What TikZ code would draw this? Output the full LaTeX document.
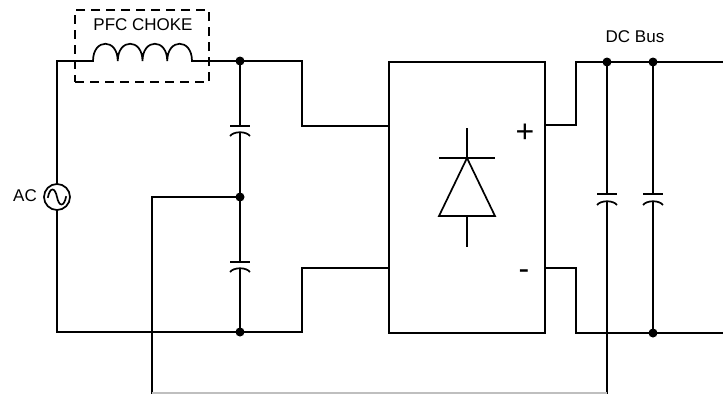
\documentclass[tikz,border=0pt]{standalone}
\usepackage{fontspec}
\setmainfont{Liberation Sans}
\begin{document}
\begin{tikzpicture}[x=1pt,y=1pt,yscale=-1,
  wire/.style={line width=1.7pt, line join=miter, line cap=rect},
  jdot/.style={circle, fill=black, inner sep=0pt, minimum size=9pt},
  lbl/.style={font=\fontsize{17}{20}\selectfont, inner sep=0pt},
  sign/.style={font=\fontsize{32}{36}\selectfont, inner sep=0pt, anchor=base},
  plate/.style={line width=1.7pt}]
\useasboundingbox (0,0) rectangle (723,394);

% labels
\node[lbl] (pfc) at (143,25) {PFC CHOKE};
\node[lbl, anchor=east] (aclbl) at (37,196) {AC};
\node[lbl] (dcbus) at (635,37) {DC Bus};

% choke box
\node[draw, dash pattern=on 9pt off 6pt, line width=1.7pt, minimum width=134pt, minimum height=72pt, inner sep=0pt] (choke) at (142,46) {};

% AC source
\node[draw, circle, line width=1.7pt, minimum size=26pt, inner sep=0pt] (ac) at (57,197) {};
\draw[wire] (48,197) .. controls (50,187) and (55,187) .. (57,197) .. controls (59,207) and (64,207) .. (66,197);

% rectifier box
\node[draw, line width=1.7pt, minimum width=156pt, minimum height=271pt, inner sep=0pt] (rect) at (467,197.5) {};

% junction dots
\node[jdot] (jt) at (240,61) {};
\node[jdot] (jm) at (240,197) {};
\node[jdot] (jb) at (240,332) {};
\node[jdot] (d1) at (607,62) {};
\node[jdot] (d2) at (653,62) {};
\node[jdot] (d3) at (653,333) {};
\node[jdot] (tp) at (727,62) {};
\node[jdot] (tn) at (727,333) {};

% coordinates
\coordinate (tl) at (57,61);
\coordinate (bl) at (57,332);
\coordinate (L1) at (93,61);
\coordinate (L2) at (192,61);
\coordinate (inA) at (rect.west |- 0,126);
\coordinate (inB) at (rect.west |- 0,268);
\coordinate (outP) at (rect.east |- 0,125);
\coordinate (outN) at (rect.east |- 0,268);
\coordinate (bot1) at (152,393);
\coordinate (bot2) at (607,393);

% left loop
\draw[wire] (ac.north) -- (tl) -- (L1);
\draw[wire] (ac.south) -- (bl) -- (jb.center);
\draw[wire] (L1) .. controls (93,38) and (117.75,38) .. (117.75,61)
                 .. controls (117.75,38) and (142.5,38) .. (142.5,61)
                 .. controls (142.5,38) and (167.25,38) .. (167.25,61)
                 .. controls (167.25,38) and (192,38) .. (192,61);
\draw[wire] (L2) -- (jt.center) -- (302,61) -- (302,126) -- (inA);
\draw[wire] (jb.center) -- (302,332) -- (302,268) -- (inB);
\draw[wire] (jm.center) -- (152,197) -- (bot1);

% left capacitors
\draw[wire] (jt.center) -- (240,126);
\draw[plate] (230,126) -- (250,126);
\draw[plate] (230,136) .. controls (234,131) and (246,131) .. (250,136);
\draw[wire] (240,132.5) -- (jm.center) -- (240,262);
\draw[plate] (230,262) -- (250,262);
\draw[plate] (230,272) .. controls (234,267) and (246,267) .. (250,272);
\draw[wire] (240,268.5) -- (jb.center);

% diode
\draw[wire] (467,129) -- (467,158);
\draw[plate] (439,158) -- (495,158);
\draw[line width=1.7pt, line join=miter] (467,158) -- (439,216) -- (495,216) -- cycle;
\draw[wire] (467,216) -- (467,246);

% signs
\node[sign] (plus) at (525,142) {+};
\node[sign] (minus) at (524,279) {-};

% DC bus
\draw[wire] (outP) -- (576,125) -- (576,62) -- (d1.center) -- (d2.center) -- (tp.center);
\draw[wire] (outN) -- (576,268) -- (576,333) -- (d3.center) -- (tn.center);

% right capacitors
\draw[wire] (d1.center) -- (607,194);
\draw[plate] (597,194) -- (617,194);
\draw[plate] (597,205) .. controls (601,200) and (613,200) .. (617,205);
\draw[wire] (607,201.5) -- (bot2);
\draw[wire] (d2.center) -- (653,194);
\draw[plate] (643,194) -- (663,194);
\draw[plate] (643,205) .. controls (647,200) and (659,200) .. (663,205);
\draw[wire] (653,201.5) -- (d3.center);

% bottom return (cut by the edge)
\draw[line width=1.7pt, black!25] (bot1) -- (bot2);
\end{tikzpicture}
\end{document}
